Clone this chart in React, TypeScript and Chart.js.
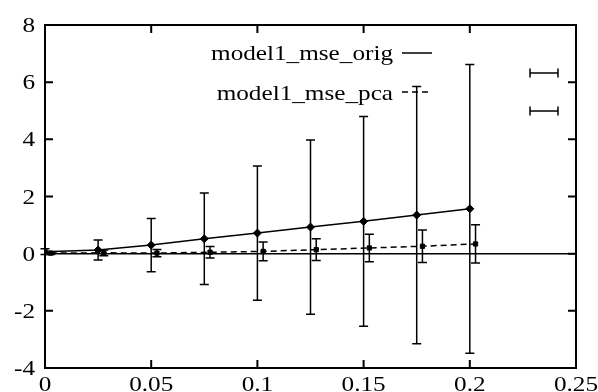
import React, { useEffect, useRef } from "react";
import { Chart, registerables } from "chart.js";
Chart.register(...registerables);

const xOrig = [0, 0.025, 0.05, 0.075, 0.1, 0.125, 0.15, 0.175, 0.2];
const yOrig = [0.07, 0.13, 0.3, 0.52, 0.72, 0.93, 1.13, 1.35, 1.57];
const errOrig = [0.1, 0.35, 0.93, 1.6, 2.35, 3.05, 3.67, 4.5, 5.05];
const xPca = [0.0027, 0.0277, 0.0527, 0.0777, 0.1027, 0.1277, 0.1527, 0.1777, 0.2027];
const yPca = [0.02, 0.03, 0.02, 0.05, 0.08, 0.14, 0.2, 0.26, 0.34];
const errPca = [0.05, 0.1, 0.13, 0.2, 0.33, 0.38, 0.48, 0.57, 0.67];
const xTicks = [0, 0.05, 0.1, 0.15, 0.2, 0.25];
const xTickLabels = ["0", "0.05", "0.1", "0.15", "0.2", "0.25"];
const yTicks = [-4, -2, 0, 2, 4, 6, 8];
const yTickLabels = ["-4", "-2", "0", "2", "4", "6", "8"];
const seriesNames = ["model1_mse_orig", "model1_mse_pca"];

const FONT = "'Liberation Serif', 'Times New Roman', serif";
const FONT_SIZE = 21;
const STRETCH = 1.2;
const W = 598;
const H = 410;

function stretchedText(ctx: any, text: string, x: number, y: number, align: string) {
  ctx.save();
  ctx.translate(x, y);
  ctx.scale(STRETCH, 1);
  ctx.textAlign = align;
  ctx.textBaseline = "alphabetic";
  ctx.fillText(text, 0, 0);
  ctx.restore();
}

const gnuplotPlugin = {
  id: "gnuplotDeco",
  afterDatasetsDraw(chart: any) {
    const { ctx, chartArea: a, scales } = chart;
    const xs = scales.x;
    const ys = scales.y;
    ctx.save();
    ctx.strokeStyle = "#000";
    ctx.fillStyle = "#000";

    // zero axis
    ctx.lineWidth = 1.5;
    const y0 = ys.getPixelForValue(0);
    ctx.beginPath();
    ctx.moveTo(a.left, y0);
    ctx.lineTo(a.right, y0);
    ctx.stroke();

    // error bars
    const drawErr = (xv: number[], yv: number[], ev: number[]) => {
      ctx.lineWidth = 1.5;
      for (let i = 0; i < xv.length; i++) {
        const px = xs.getPixelForValue(xv[i]);
        const t = ys.getPixelForValue(yv[i] + ev[i]);
        const b = ys.getPixelForValue(yv[i] - ev[i]);
        ctx.beginPath();
        ctx.moveTo(px, t);
        ctx.lineTo(px, b);
        ctx.moveTo(px - 4.5, t);
        ctx.lineTo(px + 4.5, t);
        ctx.moveTo(px - 4.5, b);
        ctx.lineTo(px + 4.5, b);
        ctx.stroke();
      }
    };
    drawErr(xOrig, yOrig, errOrig);
    drawErr(xPca, yPca, errPca);

    // frame
    ctx.lineWidth = 2;
    ctx.strokeRect(a.left, a.top, a.right - a.left, a.bottom - a.top);

    // inward ticks
    const tl = 8;
    ctx.beginPath();
    xTicks.forEach((v) => {
      const px = xs.getPixelForValue(v);
      ctx.moveTo(px, a.bottom);
      ctx.lineTo(px, a.bottom - tl);
      ctx.moveTo(px, a.top);
      ctx.lineTo(px, a.top + tl);
    });
    yTicks.forEach((v) => {
      const py = ys.getPixelForValue(v);
      ctx.moveTo(a.left, py);
      ctx.lineTo(a.left + tl, py);
      ctx.moveTo(a.right, py);
      ctx.lineTo(a.right - tl, py);
    });
    ctx.stroke();

    // tick labels (horizontally stretched like the source)
    ctx.font = `${FONT_SIZE}px ${FONT}`;
    xTicks.forEach((v, i) => {
      stretchedText(ctx, xTickLabels[i], xs.getPixelForValue(v), a.bottom + 23, "center");
    });
    yTicks.forEach((v, i) => {
      stretchedText(ctx, yTickLabels[i], a.left - 10, ys.getPixelForValue(v) + 7, "right");
    });

    // key
    const textX = a.left + 348;
    const rows = [a.top + 35, a.top + 75];
    seriesNames.forEach((n, i) => stretchedText(ctx, n, textX, rows[i], "right"));
    const lineRows = [a.top + 28, a.top + 67];
    ctx.lineWidth = 1.5;
    ctx.beginPath();
    ctx.moveTo(textX + 9, lineRows[0]);
    ctx.lineTo(textX + 39, lineRows[0]);
    ctx.stroke();
    ctx.setLineDash([6, 4]);
    ctx.beginPath();
    ctx.moveTo(textX + 9, lineRows[1]);
    ctx.lineTo(textX + 39, lineRows[1]);
    ctx.stroke();
    ctx.setLineDash([]);
    // errorbar key samples
    const ekRows = [a.top + 48, a.top + 86];
    const ex0 = a.left + 485;
    const ex1 = a.left + 513;
    ctx.beginPath();
    ekRows.forEach((ry) => {
      ctx.moveTo(ex0, ry);
      ctx.lineTo(ex1, ry);
      ctx.moveTo(ex0, ry - 4.5);
      ctx.lineTo(ex0, ry + 4.5);
      ctx.moveTo(ex1, ry - 4.5);
      ctx.lineTo(ex1, ry + 4.5);
    });
    ctx.stroke();
    ctx.restore();
  },
};

export default function App() {
  const ref = useRef<HTMLCanvasElement>(null);
  useEffect(() => {
    document.body.style.margin = "0";
    document.body.style.overflow = "hidden";
    const chart = new Chart(ref.current!, {
      type: "line",
      data: {
        datasets: [
          {
            label: seriesNames[0],
            data: xOrig.map((x, i) => ({ x, y: yOrig[i] })),
            borderColor: "#000",
            backgroundColor: "#000",
            borderWidth: 1.5,
            pointStyle: "rectRot",
            pointRadius: 4,
            pointBorderWidth: 1,
            tension: 0,
          },
          {
            label: seriesNames[1],
            data: xPca.map((x, i) => ({ x, y: yPca[i] })),
            borderColor: "#000",
            backgroundColor: "#000",
            borderWidth: 1.5,
            borderDash: [6, 4],
            pointStyle: "rect",
            pointRadius: 3,
            pointBorderWidth: 1,
            tension: 0,
          },
        ],
      },
      options: {
        responsive: false,
        animation: false,
        layout: { padding: { top: 25, right: 22, left: 0, bottom: 0 } },
        plugins: { legend: { display: false }, tooltip: { enabled: false } },
        scales: {
          x: {
            type: "linear",
            min: 0,
            max: 0.25,
            afterFit: (s: any) => {
              s.height = H - 368;
            },
            afterBuildTicks: (s: any) => {
              s.ticks = xTicks.map((v) => ({ value: v }));
            },
            grid: { display: false, drawTicks: false },
            border: { display: false },
            ticks: { display: false },
          },
          y: {
            min: -4,
            max: 8,
            afterFit: (s: any) => {
              s.width = 45;
            },
            afterBuildTicks: (s: any) => {
              s.ticks = yTicks.map((v) => ({ value: v }));
            },
            grid: { display: false, drawTicks: false },
            border: { display: false },
            ticks: { display: false },
          },
        },
      },
      plugins: [gnuplotPlugin],
    });
    return () => chart.destroy();
  }, []);
  return (
    <div style={{ width: W, height: 392, overflow: "hidden", background: "#fff" }}>
      <canvas ref={ref} width={W} height={H} style={{ display: "block" }} />
    </div>
  );
}
